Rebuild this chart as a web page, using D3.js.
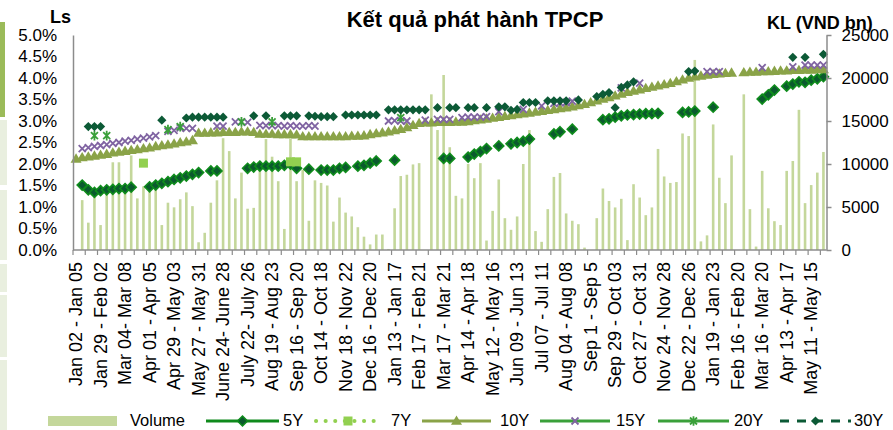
<!DOCTYPE html>
<html>
<head>
<meta charset="utf-8">
<script src="https://cdn.jsdelivr.net/npm/d3@7/dist/d3.min.js"></script>
<style>
  body { margin: 0; background: #fff; }
  text { font-family: "Liberation Sans", Arial, sans-serif; fill: #000; }
</style>
</head>
<body>
<div class="chart"></div>
<script>
// weekly auction results, one slot per week, label every 4th week
var tickLabels = [
  "Jan 02 - Jan 05", "Jan 29 - Feb 02", "Mar 04- Mar 08", "Apr 01 - Apr 05", "Apr 29 - May 03",
  "May 27 - May 31", "June 24- June 28", "July 22- July 26", "Aug 19 - Aug 23", "Sep 16 - Sep 20",
  "Oct 14 - Oct 18", "Nov 18 - Nov 22", "Dec 16 - Dec 20", "Jan 13 - Jan 17", "Feb 17 - Feb 21",
  "Mar 17 - Mar 21", "Apr 14 - Apr 18", "May 12 - May 16", "Jun 09 - Jun 13", "Jul 07 - Jul 11",
  "Aug 04 - Aug 08", "Sep 1 - Sep 5", "Sep 29 - Oct 03", "Oct 27 - Oct 31", "Nov 24 - Nov 28",
  "Dec 22 - Dec 26", "Jan 19 - Jan 23", "Feb 16 - Feb 20", "Mar 16 - Mar 20", "Apr 13 - Apr 17",
  "May 11 - May 15"
];
var labelEvery = 4;

// volume, VND bn
var volume = [
  0, 5800, 3180, 6600, 2900, 6600, 10200, 10200, 7000, 11000,
  6000, 7400, 7000, 7000, 2900, 5500, 4960, 5900, 6700, 5100,
  900, 2000, 5500, 8100, 13000, 11500, 6000, 9000, 4800, 4900,
  9900, 12900, 10850, 8000, 2450, 12950, 8000, 9300, 3400, 8100,
  7800, 7500, 3300, 6100, 4350, 3900, 2650, 1550, 650, 1800,
  1800, 120, 4850, 8600, 8750, 9950, 10100, 0, 18100, 13950,
  20350, 11950, 6300, 6000, 10000, 8350, 10100, 1100, 4550, 8200,
  3700, 2350, 3900, 10000, 13950, 2200, 950, 4750, 8500, 8950,
  4250, 3400, 3000, 280, 0, 3700, 7150, 5700, 4950, 5950,
  1150, 7650, 6100, 4050, 4950, 11750, 8550, 7800, 7900, 13550,
  13250, 22100, 1000, 1700, 14600, 8400, 5450, 11000, 0, 18100,
  4750, 400, 9200, 4850, 3350, 2900, 9200, 10350, 16300, 5450,
  7550, 9000, 11400
];

// yields, %
var rate5Y = [
  null, 1.51, 1.40, 1.34, 1.38, 1.40, 1.41, 1.43, 1.43, 1.46,
  null, null, 1.47, 1.51, 1.55, 1.59, 1.64, 1.68, 1.72, 1.76,
  1.80, null, 1.84, 1.84, null, null, null, null, 1.90, 1.93,
  1.95, 1.95, 1.95, 1.95, 1.97, 2.00, 1.90, null, 1.88, null,
  1.86, 1.86, 1.86, 1.90, 1.92, null, 1.95, 1.97, 2.02, 2.07,
  null, null, 2.09, null, null, null, null, null, null, null,
  2.13, 2.13, null, null, 2.16, 2.23, 2.29, 2.36, null, 2.42,
  null, 2.47, 2.50, 2.53, 2.58, null, null, null, 2.70, 2.75,
  null, 2.81, null, null, null, null, 3.03, 3.05, 3.09, 3.12,
  3.14, 3.15, 3.16, 3.17, 3.17, 3.18, null, null, null, 3.20,
  3.21, 3.23, null, null, 3.32, null, null, null, null, null,
  null, null, 3.51, 3.61, 3.72, null, 3.81, 3.86, 3.91, 3.90,
  3.95, 3.98, 4.03
];

var rate10Y = [
  2.12, 2.15, 2.17, 2.19, 2.21, 2.23, 2.26, 2.28, 2.30, 2.32,
  2.34, 2.36, 2.38, 2.41, 2.43, 2.45, 2.47, 2.50, 2.52, 2.55,
  2.72, 2.72, 2.73, 2.73, 2.74, 2.74, 2.74, 2.75, 2.75, 2.74,
  2.70, 2.70, 2.70, 2.69, 2.69, 2.69, 2.68, 2.64, 2.64, 2.64,
  2.64, 2.64, 2.64, 2.64, 2.64, 2.65, 2.65, 2.66, 2.69, 2.71,
  2.73, 2.75, 2.78, 2.81, 2.85, 2.90, 2.95, 2.96, 2.96, 2.97,
  2.97, 2.97, 2.98, 2.98, 2.99, 3.01, 3.03, 3.05, 3.07, 3.09,
  3.11, 3.13, 3.15, 3.17, 3.19, 3.21, 3.23, 3.25, 3.27, 3.29,
  3.31, 3.33, 3.36, 3.39, 3.43, 3.47, 3.51, 3.55, 3.59, 3.63,
  3.67, 3.70, 3.73, 3.76, 3.79, 3.82, 3.85, 3.88, 3.92, 3.96,
  4.00, 4.03, 4.05, 4.07, 4.09, 4.10, 4.11, 4.12, null, 4.13,
  4.14, 4.14, 4.15, 4.15, 4.16, 4.17, 4.17, 4.18, 4.18, 4.19,
  4.19, 4.20, 4.20
];

var rate15Y = [
  null, 2.36, 2.38, 2.41, 2.43, 2.45, 2.48, 2.50, 2.53, 2.55,
  2.58, 2.60, 2.63, 2.66, null, 2.76, 2.78, 2.84, 2.83, 2.83,
  null, null, null, 2.88, 2.88, null, 2.98, 2.98, 2.97, null,
  2.90, 2.89, 2.89, 2.89, 2.88, 2.89, 2.88, 2.88, 2.89, 2.88,
  null, null, null, null, null, null, null, null, null, null,
  null, 3.00, 3.01, 3.00, 3.00, null, null, 3.02, null, 3.04,
  3.04, 3.04, null, 3.08, 3.09, 3.09, 3.09, 3.10, null, 3.22,
  null, null, null, 3.27, null, null, 3.35, null, 3.41, 3.42,
  3.43, 3.46, null, null, null, null, null, null, null, 3.77,
  null, null, 3.88, null, null, null, null, null, null, null,
  null, null, null, 4.15, 4.15, 4.15, null, null, null, null,
  null, null, 4.24, null, null, null, null, 4.26, null, 4.30,
  4.30, 4.30, 4.30
];

var rate30Y = [
  null, null, 2.87, 2.87, 2.87, null, null, null, null, null,
  null, null, null, null, 3.02, null, null, null, 3.07, 3.09,
  3.09, 3.09, 3.09, 3.09, 3.09, null, null, null, null, 3.12,
  null, 3.12, null, null, 3.12, 3.12, 3.12, null, 3.12, 3.11,
  3.10, 3.10, 3.10, null, 3.14, 3.14, 3.14, 3.14, 3.14, 3.14,
  null, 3.26, 3.26, 3.26, 3.26, 3.26, 3.26, 3.26, null, 3.31,
  null, 3.31, 3.31, null, 3.31, 3.31, null, 3.31, null, 3.33,
  3.33, 3.25, 3.27, 3.43, 3.43, 3.43, null, 3.47, 3.47, 3.47,
  3.47, null, 3.49, null, null, 3.57, 3.62, 3.66, 3.31, 3.78,
  3.84, 3.91, null, null, null, null, null, null, null, null,
  4.15, 4.16, null, null, null, null, null, null, null, null,
  null, null, null, null, null, null, null, 4.48, null, 4.48,
  null, null, 4.55
];

// sparse tenors: week slot and yield
var weeks7Y = [11, 35, 36];
var rates7Y = [2.02, 2.05, 2.05];
var weeks20Y = [3, 5, 15, 17, 27, 32, 53];
var rates20Y = [2.66, 2.66, 2.80, 2.87, 2.98, 2.98, 3.08];

var rateTicks = [0, 0.5, 1, 1.5, 2, 2.5, 3, 3.5, 4, 4.5, 5];
var volTicks = [0, 5000, 10000, 15000, 20000, 25000];

var svgWidth = 893;
var svgHeight = 430;
var margin = { top: 35, right: 66.5, bottom: 180, left: 73 };
var width = svgWidth - margin.left - margin.right;
var height = svgHeight - margin.top - margin.bottom;
var baseY = margin.top + height;

var svg = d3.select(".chart")
  .append("svg")
  .attr("width", svgWidth)
  .attr("height", svgHeight);

// left edge of the page (slide border)
svg.append("rect").attr("x", 0).attr("y", 22).attr("width", 5).attr("height", 95).attr("fill", "#9bbb59");
[[120, 65], [190, 70], [264, 28], [295, 62], [360, 70]].forEach(function(s) {
  svg.append("rect").attr("x", 0).attr("y", s[0]).attr("width", 7).attr("height", s[1]).attr("fill", "#e9efdf");
});

var weeks = volume.map(function(v, i) { return i; });

var x = d3.scaleBand()
  .domain(weeks)
  .range([margin.left, margin.left + width])
  .padding(0);
var bw = x.bandwidth();
function cx(i) { return x(i) + bw / 2; }

var yRate = d3.scaleLinear().domain([0, 5]).range([baseY, margin.top]);
var yVol = d3.scaleLinear().domain([0, 25000]).range([baseY, margin.top]);

// volume bars
svg.append("g")
  .selectAll("rect")
  .data(volume.map(function(v, i) { return { i: i, v: v }; }).filter(function(d) { return d.v > 0; }))
  .enter()
  .append("rect")
  .attr("x", function(d) { return cx(d.i) - 1.3; })
  .attr("width", 2.6)
  .attr("y", function(d) { return yVol(d.v); })
  .attr("height", function(d) { return baseY - yVol(d.v); })
  .attr("fill", "#c4d79b");

// marker shapes
function diamond(r) { return "M0," + (-r) + "L" + r + ",0L0," + r + "L" + (-r) + ",0Z"; }
var triangle = "M0,-5.5L5.5,3.8L-5.5,3.8Z";
var cross = "M-3.5,-3.5L3.5,3.5M-3.5,3.5L3.5,-3.5";
var star = "M-3.5,-3.5L3.5,3.5M-3.5,3.5L3.5,-3.5M0,-4.8L0,4.8";
var square = "M-4.5,-4.5H4.5V4.5H-4.5Z";

function points(rates) {
  return rates.map(function(v, i) { return { i: i, v: v }; }).filter(function(d) { return d.v != null; });
}
function sparse(ws, rs) {
  return ws.map(function(w, k) { return { i: w, v: rs[k] }; });
}

function drawMarkers(data, path, style) {
  var sel = svg.append("g")
    .selectAll("path")
    .data(data)
    .enter()
    .append("path")
    .attr("d", path)
    .attr("transform", function(d) { return "translate(" + cx(d.i) + "," + yRate(d.v) + ")"; });
  Object.keys(style).forEach(function(k) { sel.attr(k, style[k]); });
}

drawMarkers(points(rate5Y), diamond(5), { fill: "#0b5a2e", stroke: "#0f8c1c", "stroke-width": 1.6 });
drawMarkers(sparse(weeks7Y, rates7Y), square, { fill: "#92d050" });
drawMarkers(points(rate10Y), triangle, { fill: "#8aa348" });
drawMarkers(points(rate15Y), cross, { fill: "none", stroke: "#8064a2", "stroke-width": 1.8 });
drawMarkers(sparse(weeks20Y, rates20Y), star, { fill: "none", stroke: "#3aa03a", "stroke-width": 1.8 });
drawMarkers(points(rate30Y), diamond(4.6), { fill: "#0c5a36" });

// axes
var axisColor = "#8c8c8c";
var leftAxis = svg.append("g")
  .attr("transform", "translate(" + margin.left + ",0)")
  .call(d3.axisLeft(yRate).tickValues(rateTicks).tickSize(0).tickPadding(16)
    .tickFormat(function(d) { return d.toFixed(1) + "%"; }));

var rightAxis = svg.append("g")
  .attr("transform", "translate(" + (margin.left + width) + ",0)")
  .call(d3.axisRight(yVol).tickValues(volTicks).tickSize(5).tickSizeOuter(0).tickPadding(10)
    .tickFormat(d3.format("d")));

[leftAxis, rightAxis].forEach(function(a) {
  a.select(".domain").attr("stroke", axisColor).attr("stroke-width", 1.5);
  a.selectAll(".tick line").attr("stroke", axisColor).attr("stroke-width", 1.5);
  a.selectAll("text").style("font-size", "17px").attr("fill", "#000");
});

var bottom = svg.append("g");
bottom.append("line")
  .attr("x1", margin.left).attr("x2", margin.left + width)
  .attr("y1", baseY).attr("y2", baseY)
  .attr("stroke", axisColor).attr("stroke-width", 1.5);
bottom.selectAll(".tk")
  .data(weeks.filter(function(i) { return i % 2 === 0; }))
  .enter()
  .append("line")
  .attr("x1", function(i) { return x(i); }).attr("x2", function(i) { return x(i); })
  .attr("y1", baseY).attr("y2", baseY + 5)
  .attr("stroke", axisColor).attr("stroke-width", 1.2);

bottom.selectAll(".lbl")
  .data(tickLabels)
  .enter()
  .append("text")
  .attr("transform", function(d, k) { return "translate(" + cx(k * labelEvery) + "," + (baseY + 12) + ") rotate(-90)"; })
  .attr("dy", "0.35em")
  .attr("text-anchor", "end")
  .style("font-size", "18px")
  .text(function(d) { return d; });

// titles
svg.append("text")
  .attr("x", 475).attr("y", 27)
  .attr("text-anchor", "middle")
  .style("font-size", "22px").style("font-weight", "bold")
  .text("Kết quả phát hành TPCP");

svg.append("text")
  .attr("x", 50).attr("y", 23)
  .style("font-size", "18px").style("font-weight", "bold")
  .text("Ls");

svg.append("text")
  .attr("x", 767).attr("y", 29)
  .style("font-size", "18px").style("font-weight", "bold")
  .text("KL (VND bn)");

// legend
var ly = 421;
var legend = svg.append("g");
legend.append("rect").attr("x", 48).attr("y", ly - 5).attr("width", 69).attr("height", 10).attr("fill", "#c4d79b");

function legLine(x1, x2, color, dash, w) {
  legend.append("line")
    .attr("x1", x1).attr("x2", x2).attr("y1", ly).attr("y2", ly)
    .attr("stroke", color).attr("stroke-width", w || 3)
    .attr("stroke-dasharray", dash || null)
    .attr("stroke-linecap", dash === "0.1,9.5" ? "round" : "butt");
}
function legMark(mx, path, style) {
  var p = legend.append("path").attr("d", path).attr("transform", "translate(" + mx + "," + ly + ")");
  Object.keys(style).forEach(function(k) { p.attr(k, style[k]); });
}

legLine(206, 279, "#0f8a1c");
legMark(242.5, diamond(5), { fill: "#0b5a2e", stroke: "#0f8c1c", "stroke-width": 1.5 });
legLine(316, 380, "#92d050", "0.1,9.5", 4);
legMark(348, square, { fill: "#92d050" });
legLine(422, 491, "#8aa348");
legMark(456.5, triangle, { fill: "#8aa348" });
legLine(540, 610, "#3aa03a");
legMark(575, cross, { fill: "none", stroke: "#8064a2", "stroke-width": 1.8 });
legLine(658, 729, "#3aa03a");
legMark(693.5, star, { fill: "none", stroke: "#3aa03a", "stroke-width": 1.8 });
legLine(780, 851, "#0c5a36", "9,8");
legMark(815.5, diamond(4.6), { fill: "#0c5a36" });

var legendNames = ["Volume", "5Y", "7Y", "10Y", "15Y", "20Y", "30Y"];
var legendX = [130, 283, 391, 500, 616, 734, 854];
legend.selectAll(".ln")
  .data(legendNames)
  .enter()
  .append("text")
  .attr("x", function(d, k) { return legendX[k]; })
  .attr("y", ly + 5)
  .style("font-size", "16.5px")
  .text(function(d) { return d; });
</script>
</body>
</html>
